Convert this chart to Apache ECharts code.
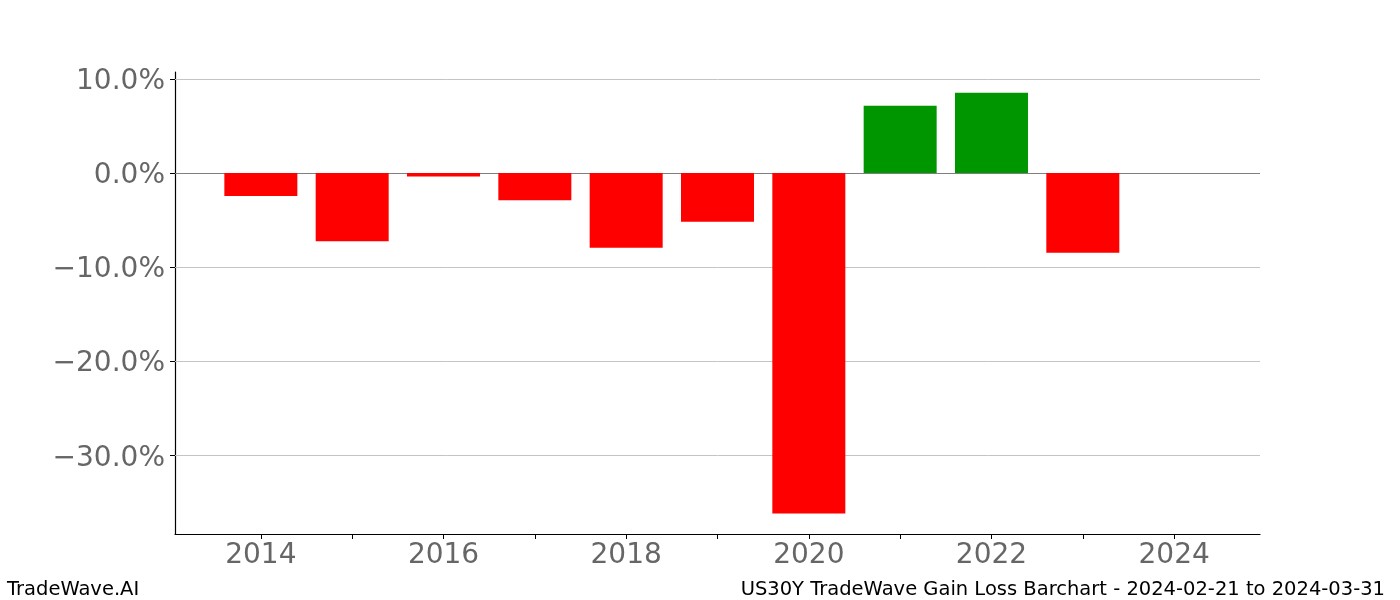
<!DOCTYPE html>
<html>
<head>
<meta charset="utf-8">
<script src="https://cdn.jsdelivr.net/npm/echarts@6/dist/echarts.min.js"></script>
<style>
html,body{margin:0;padding:0;background:#fff;}
#chart{width:1400px;height:600px;}
</style>
</head>
<body>
<div id="chart"></div>
<script>
const years = [2014, 2015, 2016, 2017, 2018, 2019, 2020, 2021, 2022, 2023, 2024];
const gains = [-2.45, -7.25, -0.38, -2.9, -7.95, -5.18, -36.2, 7.16, 8.54, -8.48, 0];
const xTickYears = [2014, 2015, 2016, 2017, 2018, 2019, 2020, 2021, 2022, 2023, 2024];
const xLabelYears = [2014, 2016, 2018, 2020, 2022, 2024];
const yTicks = [-30, -20, -10, 0, 10];
const titleText = 'US30Y TradeWave Gain Loss Barchart - 2024-02-21 to 2024-03-31';
const brandText = 'TradeWave.AI';

const FONT = 'DejaVu Sans';
const fmtPct = v => '{p|' + (v < 0 ? '\u2212' : '') + Math.abs(v).toFixed(1) + '%}';

const chart = echarts.init(document.getElementById('chart'), null, {renderer: 'canvas'});
chart.setOption({
  animation: false,
  backgroundColor: '#ffffff',
  textStyle: {fontFamily: FONT},
  title: [
    {text: brandText, left: 7, top: 580, padding: 0, textStyle: {fontFamily: FONT, fontSize: 19.5, fontWeight: 'normal', color: '#000'}},
    {text: titleText, right: 15, top: 580, padding: 0, textStyle: {fontFamily: FONT, fontSize: 19.5, fontWeight: 'normal', color: '#000'}}
  ],
  grid: {left: 175, right: 140, top: 72, bottom: 66, containLabel: false},
  xAxis: {
    type: 'value',
    min: 2013.06,
    max: 2024.94,
    axisLine: {show: true, onZero: false, lineStyle: {color: '#000', width: 1.2}},
    axisTick: {show: true, customValues: xTickYears, length: 5, inside: false, lineStyle: {color: '#000', width: 1}},
    axisLabel: {customValues: xLabelYears, formatter: v => String(Math.round(v)), fontFamily: FONT, fontSize: 28, color: '#666666', margin: 8},
    splitLine: {show: false}
  },
  yAxis: {
    type: 'value',
    min: -38.37,
    max: 10.74,
    axisLine: {show: true, lineStyle: {color: '#000', width: 1.2}},
    axisTick: {show: true, customValues: yTicks, length: 5, lineStyle: {color: '#000', width: 1}},
    axisLabel: {
      customValues: yTicks, formatter: fmtPct, margin: 10,
      rich: {p: {fontFamily: FONT, fontSize: 28, color: '#666666', padding: [6, 0, 0, 0]}}
    },
    splitLine: {show: false}
  },
  series: [
    {
      type: 'bar',
      barWidth: 73,
      data: years.map((y, i) => ({value: [y, gains[i]], itemStyle: {color: gains[i] >= 0 ? '#009600' : '#ff0000'}})),
      markLine: {
        silent: true,
        symbol: 'none',
        z: 1,
        label: {show: false},
        data: yTicks.filter(t => t !== 0).map(t => ({yAxis: t, lineStyle: {color: '#c4c4c4', width: 1, type: 'solid'}}))
          .concat([{yAxis: 0, lineStyle: {color: '#808080', width: 1.2, type: 'solid'}}])
      },
      z: 2
    }
  ]
});
</script>
</body>
</html>
